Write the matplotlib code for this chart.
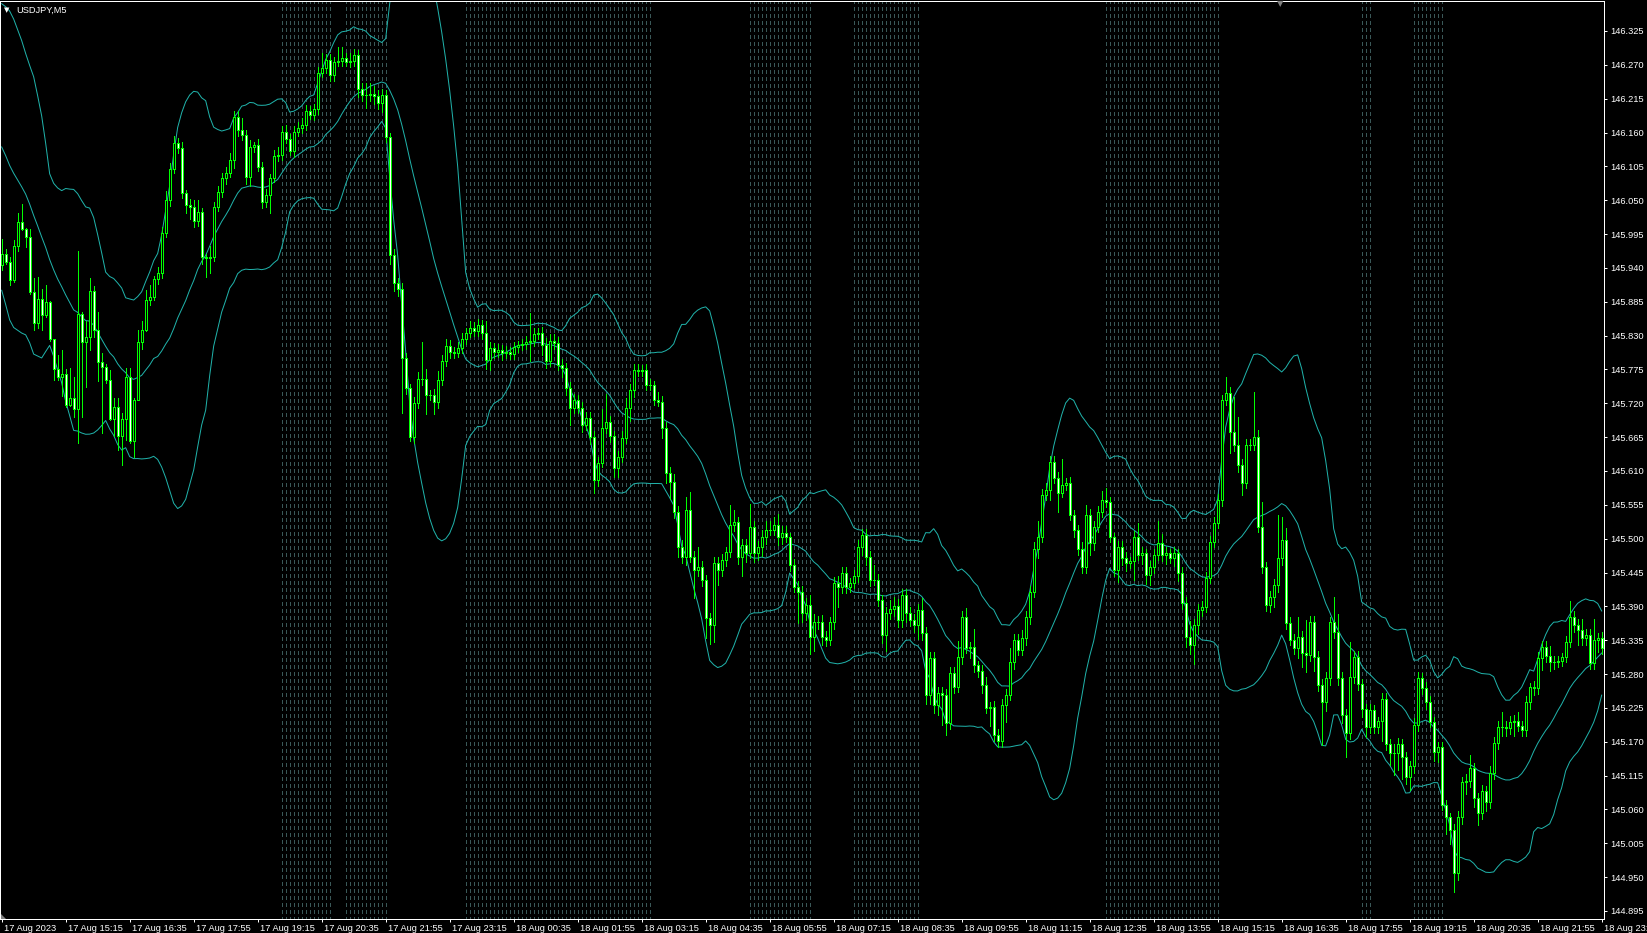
import numpy as np
import matplotlib
matplotlib.use("Agg")
import matplotlib.pyplot as plt
from matplotlib.transforms import ScaledTranslation
from matplotlib.patches import Polygon

plt.rcParams['lines.scale_dashes'] = False
plt.rcParams['font.family'] = ['Liberation Sans', 'DejaVu Sans']

### USDJPY M5 - close prices, one per bar (bar 0 = 17 Aug 13:55)
closes = [
    145.963, 145.950, 145.920, 145.975, 146.015, 146.003, 145.990, 145.901, 145.851, 145.890,
    145.863, 145.885, 145.824, 145.775, 145.763, 145.767, 145.717, 145.728, 145.710, 145.865,
    145.819, 145.827, 145.903, 145.839, 145.787, 145.779, 145.758, 145.694, 145.714, 145.667,
    145.694, 145.763, 145.659, 145.726, 145.820, 145.839, 145.888, 145.893, 145.922, 145.931,
    145.996, 146.051, 146.100, 146.143, 146.135, 146.061, 146.042, 146.039, 146.016, 146.031,
    145.957, 145.956, 145.957, 146.039, 146.063, 146.086, 146.094, 146.115, 146.185, 146.164,
    146.156, 146.087, 146.136, 146.139, 146.104, 146.047, 146.058, 146.086, 146.122, 146.123,
    146.161, 146.149, 146.130, 146.161, 146.167, 146.172, 146.195, 146.188, 146.198, 146.256,
    146.265, 146.278, 146.253, 146.274, 146.276, 146.281, 146.274, 146.276, 146.286, 146.230,
    146.221, 146.221, 146.222, 146.219, 146.208, 146.221, 146.152, 145.961, 145.915, 145.905,
    145.793, 145.745, 145.665, 145.720, 145.759, 145.759, 145.733, 145.733, 145.722, 145.758,
    145.788, 145.813, 145.803, 145.801, 145.810, 145.824, 145.834, 145.842, 145.837, 145.847,
    145.834, 145.790, 145.810, 145.803, 145.806, 145.801, 145.803, 145.800, 145.811, 145.814,
    145.816, 145.819, 145.821, 145.832, 145.834, 145.814, 145.788, 145.822, 145.818, 145.782,
    145.777, 145.745, 145.712, 145.725, 145.712, 145.684, 145.696, 145.665, 145.595, 145.623,
    145.680, 145.689, 145.667, 145.615, 145.632, 145.663, 145.712, 145.741, 145.774, 145.772,
    145.774, 145.749, 145.749, 145.725, 145.722, 145.680, 145.606, 145.592, 145.543, 145.486,
    145.470, 145.546, 145.470, 145.449, 145.454, 145.433, 145.371, 145.359, 145.460, 145.449,
    145.465, 145.478, 145.522, 145.527, 145.470, 145.489, 145.476, 145.519, 145.476, 145.486,
    145.502, 145.514, 145.514, 145.522, 145.502, 145.510, 145.502, 145.457, 145.421, 145.413,
    145.380, 145.392, 145.340, 145.364, 145.364, 145.340, 145.335, 145.364, 145.428, 145.421,
    145.444, 145.421, 145.428, 145.439, 145.486, 145.506, 145.470, 145.433, 145.433, 145.400,
    145.343, 145.379, 145.385, 145.390, 145.368, 145.408, 145.379, 145.368, 145.359, 145.384,
    145.346, 145.246, 145.306, 145.229, 145.249, 145.246, 145.200, 145.281, 145.259, 145.307,
    145.372, 145.322, 145.324, 145.294, 145.285, 145.262, 145.225, 145.226, 145.181, 145.172,
    145.229, 145.246, 145.299, 145.335, 145.319, 145.338, 145.372, 145.413, 145.484, 145.502,
    145.571, 145.579, 145.624, 145.598, 145.575, 145.587, 145.590, 145.538, 145.514, 145.484,
    145.454, 145.538, 145.493, 145.519, 145.543, 145.563, 145.559, 145.502, 145.449, 145.486,
    145.468, 145.460, 145.463, 145.502, 145.473, 145.476, 145.441, 145.454, 145.473, 145.493,
    145.473, 145.476, 145.468, 145.476, 145.444, 145.395, 145.340, 145.327, 145.359, 145.384,
    145.389, 145.436, 145.494, 145.525, 145.563, 145.725, 145.736, 145.673, 145.652, 145.619,
    145.590, 145.652, 145.652, 145.665, 145.519, 145.454, 145.392, 145.405, 145.424, 145.468,
    145.498, 145.363, 145.335, 145.322, 145.340, 145.314, 145.311, 145.364, 145.307, 145.262,
    145.234, 145.273, 145.364, 145.348, 145.273, 145.213, 145.184, 145.275, 145.307, 145.264,
    145.223, 145.194, 145.221, 145.194, 145.203, 145.239, 145.166, 145.151, 145.151, 145.166,
    145.145, 145.112, 145.130, 145.198, 145.273, 145.257, 145.234, 145.202, 145.153, 145.161,
    145.067, 145.047, 145.026, 144.956, 145.047, 145.104, 145.107, 145.127, 145.078, 145.054,
    145.090, 145.072, 145.120, 145.168, 145.194, 145.194, 145.192, 145.202, 145.203, 145.195,
    145.189, 145.234, 145.259, 145.257, 145.306, 145.324, 145.309, 145.299, 145.299, 145.301,
    145.307, 145.332, 145.372, 145.359, 145.351, 145.338, 145.343, 145.298, 145.335, 145.338,
    145.322,
]
first_open = 145.945

### upper / lower shadows in points (0.001)
wick_hi = [
    24, 7, 8, 10, 15, 29, 2, 14, 23, 36, 16, 27, 1, 1, 23, 40, 9, 49, 35, 103,
    3, 27, 21, 8, 30, 15, 5, 16, 14, 14, 10, 14, 14, 2, 19, 14, 16, 19, 5, 10,
    10, 14, 10, 12, 8, 10, 6, 10, 12, 20, 6, 5, 18, 8, 10, 8, 10, 12, 10, 10,
    20, 8, 12, 6, 10, 8, 10, 6, 10, 14, 10, 12, 8, 10, 10, 12, 10, 8, 8, 10,
    24, 10, 10, 8, 23, 18, 8, 14, 10, 8, 10, 20, 18, 14, 10, 10, 8, 8, 10, 8,
    10, 8, 6, 10, 12, 61, 17, 8, 10, 14, 10, 12, 10, 8, 10, 10, 8, 12, 10, 10,
    8, 19, 10, 8, 10, 8, 10, 8, 8, 8, 8, 10, 46, 10, 8, 10, 12, 10, 10, 10,
    10, 8, 10, 10, 8, 10, 10, 10, 10, 10, 30, 46, 10, 8, 10, 12, 16, 10, 10, 10,
    8, 10, 10, 8, 14, 10, 10, 10, 13, 10, 12, 22, 30, 10, 32, 10, 8, 8, 10, 10,
    10, 8, 32, 20, 8, 10, 10, 38, 10, 10, 12, 14, 15, 14, 18, 10, 10, 8, 10, 10,
    10, 12, 16, 14, 10, 12, 10, 8, 10, 12, 10, 10, 8, 10, 12, 10, 10, 10, 24, 10,
    8, 10, 15, 15, 12, 10, 10, 10, 10, 10, 19, 10, 10, 10, 10, 10, 10, 10, 10, 27,
    11, 15, 8, 30, 8, 10, 14, 8, 10, 10, 10, 10, 24, 10, 10, 14, 10, 10, 10, 27,
    10, 12, 10, 10, 10, 42, 8, 10, 8, 8, 10, 16, 10, 10, 10, 14, 19, 8, 8, 10,
    10, 10, 8, 10, 24, 10, 8, 10, 10, 35, 14, 10, 8, 10, 8, 10, 10, 27, 10, 10,
    10, 10, 10, 10, 10, 8, 27, 10, 57, 46, 10, 10, 10, 74, 12, 40, 8, 10, 10, 71,
    37, 20, 10, 10, 32, 10, 54, 10, 10, 10, 10, 10, 8, 41, 30, 10, 10, 57, 10, 10,
    8, 8, 10, 8, 8, 10, 10, 8, 16, 10, 8, 8, 8, 10, 10, 8, 10, 10, 8, 8,
    8, 8, 8, 10, 10, 8, 10, 22, 8, 8, 10, 8, 10, 10, 10, 24, 10, 10, 10, 16,
    8, 10, 7, 10, 10, 10, 10, 16, 10, 8, 8, 10, 27, 10, 10, 19, 10, 10, 35, 8,
    10,
]
wick_lo = [
    9, 3, 8, 3, 7, 2, 16, 3, 12, 9, 24, 3, 2, 17, 5, 31, 3, 2, 12, 55,
    121, 73, 21, 11, 30, 108, 5, 1, 27, 23, 48, 34, 4, 26, 1, 12, 1, 8, 5, 8,
    8, 6, 10, 6, 8, 8, 12, 20, 10, 8, 10, 30, 25, 6, 6, 8, 10, 6, 12, 10,
    8, 10, 14, 8, 6, 10, 8, 29, 6, 8, 8, 6, 6, 10, 6, 8, 8, 6, 8, 8,
    6, 8, 10, 10, 6, 8, 6, 8, 8, 12, 10, 21, 10, 12, 10, 14, 8, 14, 12, 10,
    89, 10, 6, 10, 8, 10, 30, 8, 20, 10, 8, 8, 10, 8, 6, 8, 8, 6, 8, 8,
    10, 14, 16, 10, 8, 10, 8, 8, 8, 8, 8, 8, 30, 8, 8, 15, 10, 8, 10, 8,
    14, 12, 27, 8, 8, 10, 8, 11, 21, 10, 6, 8, 10, 14, 14, 8, 8, 20, 10, 8,
    8, 8, 8, 8, 6, 16, 16, 27, 10, 16, 10, 12, 8, 45, 10, 10, 32, 30, 27, 24,
    10, 10, 8, 10, 11, 30, 14, 8, 14, 10, 14, 10, 8, 8, 12, 10, 8, 10, 8, 50,
    16, 12, 27, 22, 10, 12, 10, 8, 10, 32, 10, 10, 8, 8, 10, 12, 12, 10, 8, 10,
    12, 25, 10, 10, 12, 12, 14, 10, 10, 22, 10, 14, 14, 12, 16, 49, 19, 10, 10, 8,
    10, 8, 16, 10, 10, 12, 8, 30, 10, 10, 10, 27, 8, 10, 8, 8, 10, 10, 8, 16,
    8, 8, 16, 8, 32, 8, 8, 8, 12, 10, 10, 10, 19, 12, 8, 8, 8, 8, 10, 19,
    10, 12, 8, 30, 8, 14, 14, 16, 10, 8, 10, 14, 8, 12, 12, 10, 16, 14, 30, 14,
    10, 8, 8, 8, 8, 10, 8, 33, 10, 10, 19, 8, 8, 8, 8, 10, 10, 11, 16, 10,
    10, 10, 8, 10, 16, 22, 27, 10, 22, 10, 70, 14, 10, 10, 10, 12, 38, 10, 10, 10,
    12, 16, 10, 10, 10, 32, 10, 19, 35, 27, 35, 10, 20, 10, 10, 10, 10, 8, 14, 16,
    8, 27, 22, 30, 10, 10, 19, 10, 14, 20, 10, 14, 10, 10, 10, 14, 12, 10, 22, 8,
    10, 10, 10, 11, 10, 20, 10, 14, 10, 8, 8, 8, 8, 10, 24, 10, 10, 10, 10, 19,
    10,
]

### closes before the first visible bar, estimated from where the bands start
closes_before = [146.232, 146.240, 146.228, 146.235, 146.222, 146.230, 146.225, 146.218,
                 146.232, 146.220, 146.226, 146.219,
                 146.110, 146.060, 146.015, 145.985, 145.970, 145.955, 145.945]

### session zones (bar index, inclusive) shown with dotted verticals
zones = [(70, 82), (86, 96), (116, 162), (187, 202), (213, 229), (276, 304), (340, 342), (353, 360)]

### axis labels
price_ticks = [round(146.325 - 0.055 * k, 3) for k in range(27)]
time_tick_bars = list(range(0, 401, 16))
time_labels = ["17 Aug 2023", "17 Aug 15:15", "17 Aug 16:35", "17 Aug 17:55", "17 Aug 19:15",
               "17 Aug 20:35", "17 Aug 21:55", "17 Aug 23:15", "18 Aug 00:35", "18 Aug 01:55",
               "18 Aug 03:15", "18 Aug 04:35", "18 Aug 05:55", "18 Aug 07:15", "18 Aug 08:35",
               "18 Aug 09:55", "18 Aug 11:15", "18 Aug 12:35", "18 Aug 13:55", "18 Aug 15:15",
               "18 Aug 16:35", "18 Aug 17:55", "18 Aug 19:15", "18 Aug 20:35", "18 Aug 21:55",
               "18 Aug 23:15"]

### build OHLC
c = np.array(closes)
o = np.concatenate([[first_open], c[:-1]])
hi = np.maximum(o, c) + np.array(wick_hi) / 1000.0
lo = np.minimum(o, c) - np.array(wick_lo) / 1000.0
x = np.arange(len(c))

### bollinger bands 20, 2
allc = np.concatenate([closes_before, c])
mid = np.array([allc[k - 19:k + 1].mean() for k in range(19, len(allc))])
sd = np.array([allc[k - 19:k + 1].std() for k in range(19, len(allc))])
up = mid + 2 * sd
dn = mid - 2 * sd

W, H = 1647, 933
fig = plt.figure(figsize=(W / 100, H / 100), dpi=100, facecolor='black')
ax = fig.add_axes([0, 14 / H, 1604 / W, 918 / H])
ax.set_facecolor('black')
ax.set_xlim(-0.4175, 400.58)
ax.set_ylim(144.882, 146.3737)

px = 0.72  # one pixel in points
for a, b in zones:
    ax.vlines(np.arange(a, b + 1), 144.0, 147.0, colors='#3a5858', linewidth=px,
              linestyles=(0, (2.2, 2.2)), antialiased=False, zorder=1)

ax.plot(x, up, color='#20b2aa', lw=px, zorder=2)
ax.plot(x, mid, color='#20b2aa', lw=px, zorder=2)
ax.plot(x, dn, color='#20b2aa', lw=px, zorder=2)

ax.vlines(x, lo, hi, colors='#00ff00', linewidth=px, antialiased=False, zorder=3)
bull = c >= o
ax.bar(x, np.abs(c - o), bottom=np.minimum(o, c), width=0.5,
       color=np.where(bull, 'black', 'white'), edgecolor='#00ff00', linewidth=px,
       antialiased=False, zorder=4)

for s in ax.spines.values():
    s.set_color('white')
    s.set_linewidth(px)

ax.yaxis.tick_right()
ax.set_yticks(price_ticks)
ax.set_yticklabels([f"{p:.3f}" for p in price_ticks])
ax.tick_params(axis='y', colors='white', direction='out', length=2.2, width=px,
               pad=2.2, labelsize=6.7)
ax.set_xticks(time_tick_bars)
ax.set_xticklabels(time_labels, ha='left')
ax.tick_params(axis='x', colors='white', direction='out', length=2.5, width=px,
               pad=1.0, labelsize=6.7)
off = ScaledTranslation(2 / 100, 0, fig.dpi_scale_trans)
for lbl in ax.get_xticklabels():
    lbl.set_transform(lbl.get_transform() + off)

fig.text(4 / W, 1 - 10 / H, '▼', color='white', fontsize=5, family='DejaVu Sans', va='center')
fig.text(16 / W, 1 - 10 / H, 'USDJPY,M5', color='white', fontsize=6.7, va='center')
fig.text(1280 / W, 1 - 4 / H, '▼', color='#808080', fontsize=6, family='DejaVu Sans',
         ha='center', va='center')
fig.add_artist(Polygon([[1 / W, 14 / H], [6 / W, 14 / H], [1 / W, 19 / H]], closed=True,
                       transform=fig.transFigure, color='#808080', lw=0))

fig.savefig('out.png', dpi=100, facecolor='black')
